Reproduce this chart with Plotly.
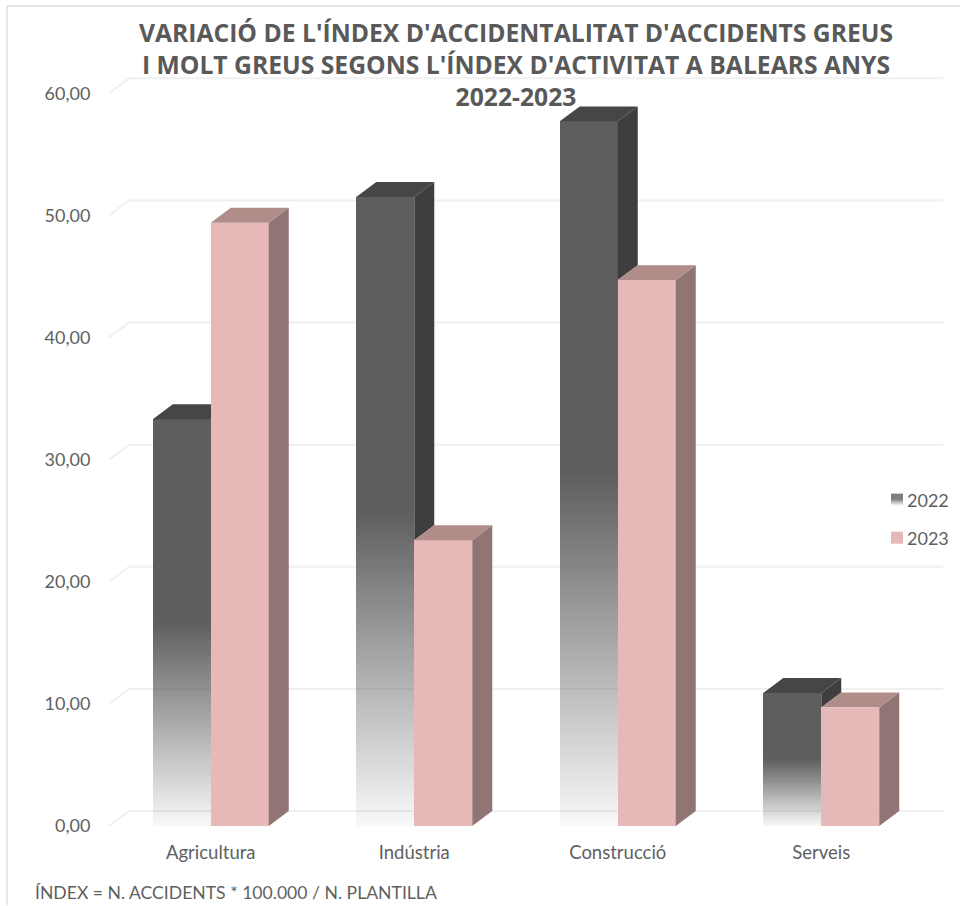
import plotly.graph_objects as go

categories = ["Agricultura", "Indústria", "Construcció", "Serveis"]
values_2022 = [33.3, 51.5, 57.7, 10.9]
values_2023 = [49.4, 23.4, 44.7, 9.7]
series_names = ["2022", "2023"]
y_ticks = [0, 10, 20, 30, 40, 50, 60]
y_tick_labels = ["0,00", "10,00", "20,00", "30,00", "40,00", "50,00", "60,00"]

TITLE = ("VARIACIÓ DE L'ÍNDEX D'ACCIDENTALITAT D'ACCIDENTS GREUS<br>"
         "I MOLT GREUS SEGONS L'ÍNDEX D'ACTIVITAT A BALEARS ANYS<br>2022-2023")
FOOT = "ÍNDEX = N. ACCIDENTS * 100.000 / N. PLANTILLA"
FONT = "Lato"
TXT = "#5F5F5F"

W, H = 960, 906
ML, MR, MB, MT = 109, 17, 79.5, 60
PX_X = 203.5
PX_Y = 12.22
XR = [-0.5, (W - ML - MR) / PX_X - 0.5]
YR = [0, (H - MB - MT) / PX_Y]
DX, DY = 20 / PX_X, 15 / PX_Y
BW = 58 / PX_X
OFF = BW / 2
FADE = 0.5
STEP = 0.2
pw, ph = W - ML - MR, H - MB - MT


def px(x):
    return (x - ML) / pw


def py(y):
    return (H - MB - y) / ph


def faces(xc, v, floor=0):
    x0, x1 = xc - BW / 2, xc + BW / 2
    top = ([x0, x1, x1 + DX, x0 + DX, x0], [v, v, v + DY, v + DY, v])
    side = ([x1, x1 + DX, x1 + DX, x1, x1], [floor, floor + DY, v + DY, v, floor])
    return top, side


def poly_trace(polys, color, xa, ya):
    xs, ys = [], []
    for qx, qy in polys:
        xs += qx + [None]
        ys += qy + [None]
    return go.Scatter(x=xs, y=ys, mode="lines", fill="toself", fillcolor=color,
                      line=dict(width=0, color=color), hoverinfo="skip",
                      showlegend=False, xaxis=xa, yaxis=ya)


fig = go.Figure()

# back wall gridlines (offset by the chart's depth)
gx, gy = [], []
for t in y_ticks:
    gx += [XR[0], XR[0] + DX, XR[1], None]
    gy += [t, t + DY, t + DY, None]
fig.add_trace(go.Scatter(x=gx, y=gy, mode="lines", line=dict(color="#F0F0F0", width=2),
                         hoverinfo="skip", showlegend=False))

# 2022: solid upper part + faded lower part
bx, bb, bh, bc = [], [], [], []
for i, v in enumerate(values_2022):
    xc = i - OFF
    bx.append(xc); bb.append(v * FADE); bh.append(v * (1 - FADE)); bc.append("rgb(94,94,94)")
    lim = v * FADE
    n = max(1, round(lim / STEP))
    for k in range(n):
        a = 0.04 + 0.96 * (k + 0.5) / n
        bx.append(xc); bb.append(lim * k / n); bh.append(lim / n)
        bc.append(f"rgba(94,94,94,{a:.3f})")
fig.add_trace(go.Bar(x=bx, y=bh, base=bb, width=BW, marker=dict(color=bc, line=dict(width=0)),
                     name=series_names[0], showlegend=False, xaxis="x2", yaxis="y2", hoverinfo="skip"))
pairs = [faces(i - OFF, v, min(v, w)) for i, (v, w) in enumerate(zip(values_2022, values_2023))]
tops, sides = zip(*pairs)
fig.add_trace(poly_trace(sides, "#3E3E3E", "x2", "y2"))
fig.add_trace(poly_trace(tops, "#464646", "x2", "y2"))

# 2023
fig.add_trace(go.Bar(x=[i + OFF for i in range(len(categories))], y=values_2023, width=BW,
                     marker=dict(color="#E6B8B8", line=dict(width=0)),
                     name=series_names[1], showlegend=False, xaxis="x3", yaxis="y3", hoverinfo="skip"))
tops, sides = zip(*[faces(i + OFF, v) for i, v in enumerate(values_2023)])
fig.add_trace(poly_trace(sides, "#917575", "x3", "y3"))
fig.add_trace(poly_trace(tops, "#B08D89", "x3", "y3"))

# chart-area frame and legend (swatches with text)
shapes = [dict(type="line", xref="paper", yref="paper", x0=px(7), x1=px(7), y0=py(6), y1=py(906),
               line=dict(color="#DEDEDE", width=1.5)),
          dict(type="line", xref="paper", yref="paper", x0=px(7), x1=px(960), y0=py(6), y1=py(6),
               line=dict(color="#DEDEDE", width=1.5))]
annotations = [dict(text=FOOT, xref="paper", yref="paper", x=px(33), y=py(893), xanchor="left",
                    yanchor="middle", showarrow=False, font=dict(size=17.6, color=TXT))]
for name, yc in zip(series_names, [500, 538]):
    annotations.append(dict(text=name, xref="paper", yref="paper", x=px(905), y=py(yc), xanchor="left",
                            yanchor="middle", showarrow=False, font=dict(size=18, color=TXT)))
for r in range(12):
    if r < 6:
        col = "rgb(94,94,94)"
    else:
        g = int(94 + (245 - 94) * (r - 5) / 6)
        col = f"rgb({g},{g},{g})"
    shapes.append(dict(type="rect", xref="paper", yref="paper", x0=px(891), x1=px(903),
                       y0=py(494 + r), y1=py(495 + r), fillcolor=col, line=dict(width=0)))
shapes.append(dict(type="rect", xref="paper", yref="paper", x0=px(891), x1=px(903),
                   y0=py(532), y1=py(544), fillcolor="#E6B8B8", line=dict(width=0)))

hidden = dict(visible=False, fixedrange=True)
fig.update_layout(
    width=W, height=H, autosize=False,
    margin=dict(l=ML, r=MR, b=MB, t=MT, pad=0),
    paper_bgcolor="white", plot_bgcolor="rgba(0,0,0,0)",
    barmode="overlay", bargap=0, showlegend=False,
    font=dict(family=FONT, color=TXT, size=18),
    title=dict(text=TITLE, x=516 / W, xanchor="center", y=1 - 42 / H, yanchor="top",
               font=dict(family="Open Sans", size=24.7, color="#595959", weight="bold")),
    xaxis=dict(range=XR, tickmode="array", tickvals=list(range(len(categories))), ticktext=categories,
               showgrid=False, zeroline=False, showline=False, ticks="outside", ticklen=10,
               tickcolor="rgba(0,0,0,0)", tickfont=dict(size=18.5, color=TXT), fixedrange=True),
    yaxis=dict(range=YR, tickmode="array", tickvals=y_ticks, ticktext=y_tick_labels,
               showgrid=False, zeroline=False, showline=False, ticks="outside", ticklen=14,
               tickcolor="rgba(0,0,0,0)", tickfont=dict(size=18, color=TXT), fixedrange=True),
    xaxis2=dict(range=XR, overlaying="x", **hidden),
    yaxis2=dict(range=YR, overlaying="y", **hidden),
    xaxis3=dict(range=XR, overlaying="x", **hidden),
    yaxis3=dict(range=YR, overlaying="y", **hidden),
    shapes=shapes,
    annotations=annotations,
)

fig.write_html("out.html", config={"displayModeBar": False},
               post_script="document.body.style.margin='0';")
